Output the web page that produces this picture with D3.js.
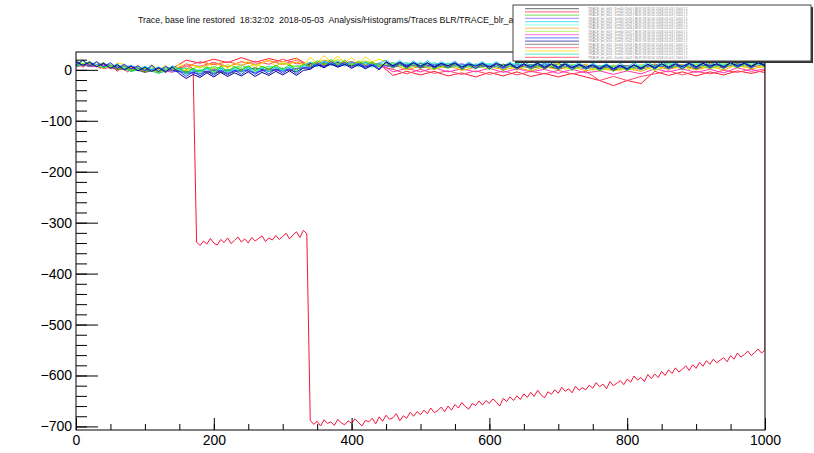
<!DOCTYPE html>
<meta charset="utf-8">
<style>
body { margin: 0; background: #fff; }
svg { font-family: "Liberation Sans", Arial, sans-serif; }
.trace { fill: none; stroke-width: 1; }
.axis text { font-family: "Liberation Sans", Arial, sans-serif; font-size: 14px; fill: #000; }
.axis line { stroke: #000; }
.axis path { display: none; }
</style>
<body>
<svg width="814" height="453"></svg>
<script src="https://d3js.org/d3.v7.min.js"></script>
<script>

// ---- data ----
var titleText = "Trace, base line restored  18:32:02  2018-05-03  Analysis/Histograms/Traces BLR/TRACE_blr_all";

var xMajorTicks = [0, 200, 400, 600, 800, 1000];
var yMajorTicks = [0, -100, -200, -300, -400, -500, -600, -700];

// the big trace with the two steps (one sample every 5)
var stepTraceValues = [
  8,12,5,10,14,6,9,3,7,11,2,5,-3,4,1,-4,2,6,-2,0,-5,3,1,-3,4,0,-6,2,5,-1,3,-4,0,6,2,
  -338,-345,-336,-342,-331,-340,-344,-333,-339,-330,-341,-335,-328,-338,-332,-340,-329,-336,-331,-326,
  -337,-330,-334,-325,-333,-327,-321,-332,-324,-318,-329,-315,-322,
  -688,-696,-690,-699,-687,-694,-691,-698,-686,-693,
  -697,-689,-694,-685,-692,-699,-688,-691,-684,-695,
  -681,-690,-678,-686,-683,-675,-689,-679,-684,-672,
  -680,-671,-677,-668,-675,-664,-673,-669,-662,-671,
  -660,-668,-657,-664,-653,-661,-666,-655,-659,-650,
  -658,-649,-655,-646,-652,-660,-645,-651,-642,-649,
  -640,-647,-636,-643,-633,-641,-629,-638,-644,-632,
  -637,-628,-635,-623,-631,-626,-634,-621,-629,-624,
  -628,-619,-625,-614,-622,-617,-626,-612,-620,-615,
  -610,-618,-607,-613,-601,-609,-604,-612,-598,-606,
  -597,-604,-592,-600,-589,-596,-585,-593,-588,-581,
  -590,-579,-586,-574,-582,-571,-578,-568,-575,-570,
  -565,-573,-561,-568,-556,-564,-559,-552,-561,-555,
  -548,-556,-550
];
var stepTraceDx = 5;
var stepTraceEnd = 5;

// traces on the base line, 101 samples from 0 to 1000
var yellowTrace = [20,9,17,6,15,2,13,11,-1,9,-2,10,0,8,-3,
  12,-1,10,3,15,4,16,2,14,7,18,5,13,20,6,17,9,22,8,
  25,13,28,16,27,14,24,12,26,15,21,
  16,4,14,2,13, 3,15,1,12,6,14,0,11,4,13, 2,12,5,15,-1,10,3,14,1,9,
  13,0,11,2,12,-2,9,0,10,-3, 8,-1,11,2,12,1,13,3,11,0, 12,4,14,2,13,5,15,3,12,6,10];
var greenTrace = [8,18,7,15,4,11,1,9,-3,6,-4,7,-5,5,-2,
  4,-6,3,-5,6,-4,7,-3,6,-1,8,-2,7,0,9,1,10,-1,11,
  7,18,10,20,9,19,8,17,9,16,6,
  14,3,12,2,13, 2,13,1,11,3,12,0,10,2,11, 1,11,-1,10,3,12,0,9,2,10,
  0,11,-1,9,1,8,-2,7,-3,8, -2,9,0,10,1,11,2,10,0,12, 1,12,3,11,2,13,4,12,3,14,6];
var cyanTrace = [18,9,16,6,14,3,12,0,9,-2,7,-1,6,-3,8,
  1,-9,0,-8,3,-7,4,-6,3,-5,5,-6,4,-4,6,-3,7,-4,8,
  15,6,18,9,17,7,16,6,15,5,13,
  19,9,18,8,17, 8,18,7,16,9,17,6,15,8,16, 6,16,7,15,5,16,8,14,6,17,
  5,15,6,14,4,13,5,12,3,13, 4,14,5,15,6,16,7,15,6,16, 7,17,8,16,7,18,9,17,8,18,10];
var blueTrace = [10,19,8,16,6,14,3,11,1,8,-2,9,-3,7,-1,
  -3,-13,-4,-12,-2,-11,0,-10,-1,-9,1,-9,0,-8,2,-7,3,-8,4,
  3,14,6,16,7,15,5,13,4,12,2,
  15,5,13,4,14, 4,13,3,12,5,13,2,11,3,12, 2,11,4,12,1,10,3,12,2,11,
  2,11,1,10,2,9,0,9,-1,8, 0,10,1,11,2,12,3,11,2,12, 3,13,4,12,3,14,5,13,4,14,7];
var navyTrace = [16,9,15,6,13,3,10,0,7,-2,5,-3,4,-4,6,
  -8,-17,-9,-15,-6,-14,-5,-13,-6,-12,-4,-13,-5,-11,-3,-10,-2,-11,-1,
  1,10,4,12,5,11,3,10,2,9,0,
  16,8,15,7,14, 7,14,6,13,8,14,5,12,7,13, 5,13,7,12,4,12,6,13,5,12,
  5,12,4,11,5,10,3,10,2,9, 2,10,3,11,4,12,5,12,6,13, 6,13,7,12,6,14,8,13,7,14,9];

// traces on the base line, 51 samples from 0 to 1000
var tealTrace = [7,14,5,8,-3,2,-7,2,3,-2,6,-1,9,0,7,1,8,6,15,8,13,5,12,9,14,7,14,5,10,3,12,6,13,4,11,5,11,2,8,8,2,10,5,13,4,11,4,11,7,14,9];
var limeTrace = [12,13,4,9,-1,3,-5,5,-2,7,2,10,3,10,3,13,6,15,11,20,11,17,9,13,3,10,1,10,3,8,1,10,2,9,3,10,0,7,-2,6,-1,7,-1,8,3,10,2,9,5,11,4];
var orangeTrace = [14,8,13,1,5,-3,3,-1,12,5,13,5,16,10,18,11,15,9,19,14,11,17,10,10,0,7,1,9,-1,5,7,0,5,-2,6,1,7,-2,4,-2,3,-3,7,1,7,0,6,0,10,2,7];
var redTrace = [8,12,3,6,-2,3,-4,3,19,13,21,14,24,15,22,16,23,7,16,11,16,8,12,-11,-3,-10,-3,-12,-6,-14,-5,-12,-4,-13,-7,-14,-7,-14,-21,-31,-21,-27,-3,-11,-4,-12,-4,-10,-2,-7,-1];
var magentaTrace = [14,6,9,0,6,-3,1,-5,10,7,15,6,16,11,18,11,19,7,15,9,15,9,13,-4,3,-4,4,-4,2,-4,3,-5,2,-4,1,-7,1,-6,-2,-9,-2,-8,2,-4,2,-5,1,-6,4,-3,2];
var blackTrace = [8,14,6,8,-2,2,-4,5,-8,-1,-7,0,-3,4,-3,3,-4,12,7,14,8,14,6,14,6,12,6,13,6,11,6,11,4,10,5,12,5,10,2,7,8,4,11,5,10,4,12,7,12,7,14];
var grayTrace = [13,7,11,1,3,-5,1,-2,-3,-8,-1,-8,0,-5,3,-2,2,4,13,8,12,6,11,7,11,4,9,4,10,4,9,4,10,3,8,2,8,3,8,0,5,1,9,4,9,2,9,4,12,6,11];
var rosyTrace = [6,11,4,9,-1,2,-6,2,6,16,10,16,9,17,11,21,12,12,9,16,9,15,7,1,-8,1,-7,-2,-9,-2,-9,-2,-10,-3,-8,-1,-8,-3,-21,-13,-21,-13,-8,-2,-10,-3,-8,-1,-5,1,-6];
var violetTrace = [14,7,12,4,8,-2,4,-3,-5,-8,1,-6,1,-6,1,-3,3,6,14,6,14,7,10,5,11,5,11,6,12,4,9,3,10,5,12,4,8,2,8,2,7,3,10,2,9,4,12,6,12,5,11];
var skyTrace = [11,15,6,9,1,6,-1,6,-7,1,3,-4,4,-1,7,2,6,7,16,11,11,15,6,14,8,15,8,13,5,11,12,5,11,6,13,7,11,4,9,3,4,10,4,11,6,13,8,13,7,13,8];

// legend order (top to bottom); entry 1 is the stepped trace
var legendLabels = [
  "TRACE_blr_b00 : Det00 Ch00 | BLR 18:32:02 2018-05-03 | 1000 | 1",
  "TRACE_blr_b01 : Det00 Ch01 | BLR 18:32:02 2018-05-03 | 1000 | 1",
  "TRACE_blr_b02 : Det00 Ch02 | BLR 18:32:02 2018-05-03 | 1000 | 1",
  "TRACE_blr_b03 : Det00 Ch03 | BLR 18:32:02 2018-05-03 | 1000 | 1",
  "TRACE_blr_b04 : Det00 Ch04 | BLR 18:32:02 2018-05-03 | 1000 | 1",
  "TRACE_blr_b05 : Det00 Ch05 | BLR 18:32:02 2018-05-03 | 1000 | 1",
  "TRACE_blr_b06 : Det00 Ch06 | BLR 18:32:02 2018-05-03 | 1000 | 1",
  "TRACE_blr_b07 : Det00 Ch07 | BLR 18:32:02 2018-05-03 | 1000 | 1",
  "TRACE_blr_b08 : Det01 Ch00 | BLR 18:32:02 2018-05-03 | 1000 | 1",
  "TRACE_blr_b09 : Det01 Ch01 | BLR 18:32:02 2018-05-03 | 1000 | 1",
  "TRACE_blr_b10 : Det01 Ch02 | BLR 18:32:02 2018-05-03 | 1000 | 1",
  "TRACE_blr_b11 : Det01 Ch03 | BLR 18:32:02 2018-05-03 | 1000 | 1",
  "TRACE_blr_b12 : Det01 Ch04 | BLR 18:32:02 2018-05-03 | 1000 | 1",
  "TRACE_blr_b13 : Det01 Ch05 | BLR 18:32:02 2018-05-03 | 1000 | 1",
  "TRACE_blr_b14 : Det01 Ch06 | BLR 18:32:02 2018-05-03 | 1000 | 1",
  "TRACE_blr_b15 : Det01 Ch07 | BLR 18:32:02 2018-05-03 | 1000 | 1"
];
var traceColors = ["#222222", "#f5143c", "#33cc00", "#7a4dff", "#00c8f0", "#55ffe0", "#ffa200", "#99ee22",
                   "#ff33c0", "#2a2aff", "#000090", "#555555", "#ff4466", "#ffe000", "#00e0b0", "#ff1a30"];

var baseTraces = [blackTrace, null, greenTrace, violetTrace, cyanTrace, skyTrace, orangeTrace, limeTrace,
                  magentaTrace, blueTrace, navyTrace, grayTrace, rosyTrace, yellowTrace, tealTrace, redTrace];

// painting order: reds underneath, blues on top
var drawOrder = [1, 15, 12, 8, 6, 0, 11, 14, 5, 3, 7, 13, 2, 4, 9, 10];

// ---- chart ----
var svg = d3.select("svg"),
    margin = {top: 52, right: 49, bottom: 23, left: 76},
    width = +svg.attr("width") - margin.left - margin.right,
    height = +svg.attr("height") - margin.top - margin.bottom;

var x = d3.scaleLinear().domain([0, 1000]).range([0, width]),
    y = d3.scaleLinear().domain([-707, 35]).range([height, 0]);

svg.append("text")
    .attr("x", 138)
    .attr("y", 23)
    .style("font-size", "8.8px")
    .style("white-space", "pre")
    .style("fill", "#111")
    .text(titleText);

var g = svg.append("g")
    .attr("transform", "translate(" + margin.left + "," + margin.top + ")");

g.append("clipPath").attr("id", "plotclip")
  .append("rect").attr("width", width).attr("height", height);

var series = baseTraces.map(function(vals, i) {
  var pts;
  if (vals === null) {
    pts = stepTraceValues.map(function(v, j) { return [j * stepTraceDx, v]; });
    pts.push([1000, stepTraceEnd]);
  } else {
    var n = vals.length;
    pts = vals.map(function(v, j) { return [j * 1000 / (n - 1), v]; });
  }
  return {label: legendLabels[i], color: traceColors[i], points: pts};
});

var line = d3.line()
    .x(function(d) { return x(d[0]); })
    .y(function(d) { return y(d[1]); });

g.append("g")
    .attr("clip-path", "url(#plotclip)")
  .selectAll("path")
  .data(drawOrder.map(function(i) { return series[i]; }))
  .enter().append("path")
    .attr("class", "trace")
    .attr("stroke", function(d) { return d.color; })
    .attr("d", function(d) { return line(d.points); });

// frame
g.append("rect")
    .attr("width", width)
    .attr("height", height)
    .attr("fill", "none")
    .attr("stroke", "#000")
    .attr("stroke-width", 1);

// axes, ROOT style ticks on the inside
g.append("g")
    .attr("class", "axis axis--x")
    .attr("transform", "translate(0," + height + ")")
    .call(d3.axisBottom(x).tickValues(d3.range(0, 1001, 50)).tickSize(-6).tickFormat(""));

g.append("g")
    .attr("class", "axis axis--x")
    .attr("transform", "translate(0," + height + ")")
    .call(d3.axisBottom(x).tickValues(xMajorTicks).tickSize(-12).tickPadding(5).tickFormat(d3.format("d")));

g.append("g")
    .attr("class", "axis axis--y")
    .call(d3.axisLeft(y).tickValues(d3.range(-700, 21, 20)).tickSize(-11).tickFormat(""));

g.append("g")
    .attr("class", "axis axis--y")
    .call(d3.axisLeft(y).tickValues(yMajorTicks).tickSize(-22).tickPadding(4).tickFormat(d3.format("d")));

// legend box, drawn over the title and frame
var leg = svg.append("g").attr("transform", "translate(513,5)");
var legW = 298, legH = 56;

leg.append("rect")
    .attr("x", 2).attr("y", 2)
    .attr("width", legW).attr("height", legH)
    .attr("fill", "#333");
leg.append("rect")
    .attr("width", legW).attr("height", legH)
    .attr("fill", "#fff")
    .attr("stroke", "#444")
    .attr("stroke-width", 1);

var rowY = d3.scaleBand()
    .domain(d3.range(series.length))
    .range([2, legH - 2]);

var rows = leg.selectAll(".legrow")
  .data(series)
  .enter().append("g")
    .attr("class", "legrow")
    .attr("transform", function(d, i) { return "translate(0," + (rowY(i) + rowY.bandwidth() / 2) + ")"; });

rows.append("line")
    .attr("x1", 12).attr("x2", 66)
    .attr("stroke", function(d) { return d.color; })
    .attr("stroke-opacity", 0.55)
    .attr("stroke-width", 1.4);

rows.append("text")
    .attr("x", 75)
    .attr("dy", "0.35em")
    .style("font-size", "3.3px")
    .style("fill", "#8a8a8a")
    .text(function(d) { return d.label; });

</script>
